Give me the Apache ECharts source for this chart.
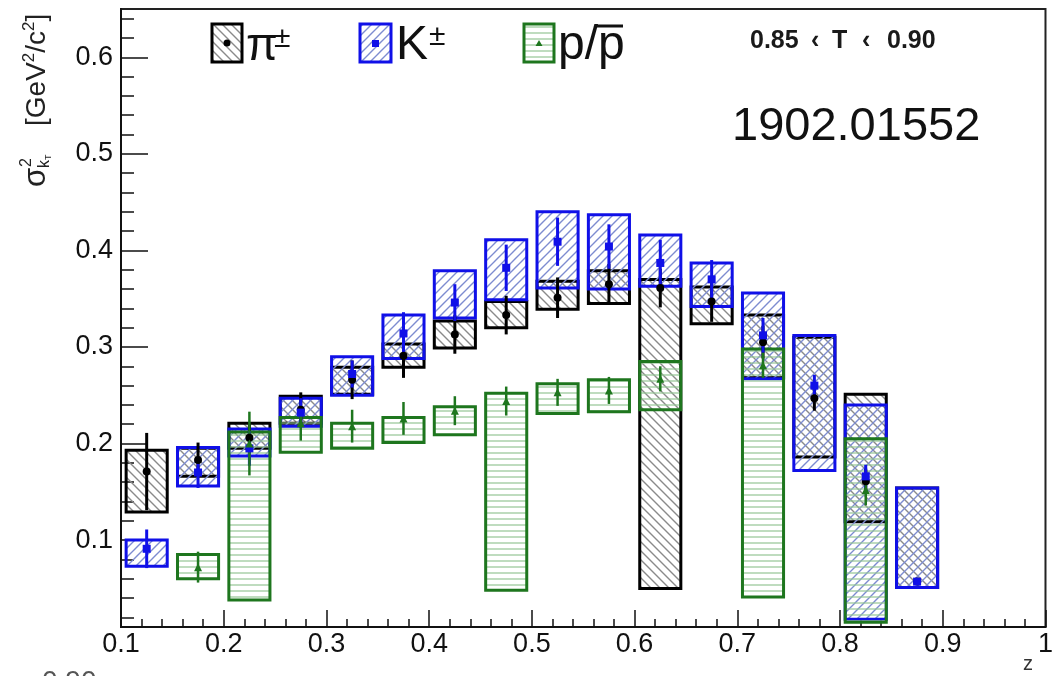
<!DOCTYPE html>
<html>
<head>
<meta charset="utf-8">
<script src="https://cdn.jsdelivr.net/npm/echarts@6/dist/echarts.min.js"></script>
<style>
  html, body { margin: 0; padding: 0; background: #fff; }
  #chart { width: 1056px; height: 676px; }
</style>
</head>
<body>
<div id="chart"></div>
<script>
// ---- axis ticks ----
const xMajorTicks = [0.1, 0.2, 0.3, 0.4, 0.5, 0.6, 0.7, 0.8, 0.9, 1.0];
const xTickLabels = ['0.1', '0.2', '0.3', '0.4', '0.5', '0.6', '0.7', '0.8', '0.9', '1'];
const yMajorTicks = [0.1, 0.2, 0.3, 0.4, 0.5, 0.6];
const yTickLabels = ['0.1', '0.2', '0.3', '0.4', '0.5', '0.6'];

// ---- pions ----
const piBins    = [0.125, 0.175, 0.225, 0.275, 0.325, 0.375, 0.425, 0.475, 0.525, 0.575, 0.625, 0.675, 0.725, 0.775, 0.825, 0.875];
const piValue   = [0.171, 0.183, 0.206, 0.235, 0.266, 0.291, 0.313, 0.333, 0.351, 0.365, 0.361, 0.347, 0.305, 0.247, 0.161, 0.057];
const piStat    = [0.040, 0.018, 0.016, 0.018, 0.020, 0.023, 0.020, 0.020, 0.021, 0.021, 0.020, 0.021, 0.017, 0.013, 0.013, 0.003];
const piSysLow  = [0.129, 0.166, 0.195, 0.221, 0.251, 0.279, 0.299, 0.320, 0.339, 0.345, 0.050, 0.324, 0.268, 0.186, 0.119, 0.051];
const piSysHigh = [0.193, 0.195, 0.221, 0.249, 0.279, 0.303, 0.327, 0.347, 0.368, 0.379, 0.370, 0.362, 0.333, 0.310, 0.251, 0.154];

// ---- kaons ----
const kBins    = [0.125, 0.175, 0.225, 0.275, 0.325, 0.375, 0.425, 0.475, 0.525, 0.575, 0.625, 0.675, 0.725, 0.775, 0.825, 0.875];
const kValue   = [0.091, 0.170, 0.195, 0.232, 0.272, 0.314, 0.346, 0.382, 0.409, 0.404, 0.387, 0.370, 0.312, 0.260, 0.166, 0.057];
const kStat    = [0.020, 0.016, 0.018, 0.015, 0.014, 0.022, 0.019, 0.024, 0.025, 0.023, 0.024, 0.020, 0.018, 0.011, 0.012, 0.003];
const kSysLow  = [0.073, 0.156, 0.187, 0.218, 0.250, 0.288, 0.330, 0.349, 0.361, 0.360, 0.363, 0.342, 0.267, 0.172, 0.018, 0.051];
const kSysHigh = [0.100, 0.196, 0.215, 0.247, 0.290, 0.333, 0.379, 0.411, 0.440, 0.437, 0.416, 0.387, 0.356, 0.312, 0.240, 0.154];

// ---- protons ----
const pBins    = [0.175, 0.225, 0.275, 0.325, 0.375, 0.425, 0.475, 0.525, 0.575, 0.625, 0.725, 0.825];
const pValue   = [0.072, 0.200, 0.221, 0.218, 0.226, 0.234, 0.244, 0.253, 0.255, 0.267, 0.281, 0.152];
const pStat    = [0.016, 0.033, 0.018, 0.017, 0.017, 0.015, 0.015, 0.014, 0.014, 0.013, 0.013, 0.016];
const pSysLow  = [0.060, 0.038, 0.191, 0.195, 0.201, 0.209, 0.048, 0.231, 0.233, 0.235, 0.041, 0.015];
const pSysHigh = [0.085, 0.212, 0.227, 0.221, 0.227, 0.238, 0.252, 0.262, 0.266, 0.285, 0.298, 0.205];

// ---- styling ----
const FONT = '"Liberation Sans", Arial, Helvetica, sans-serif';
const BOX_HALF = 0.02;          // half-width of a systematic box in z
const PI_COLOR = '#000000';
const K_COLOR = '#1010e8';
const P_COLOR = '#1e761e';

// hatch tiles: transparent background, lines only, so overlapping boxes cross-hatch
function hatch(kind, color, size, width) {
  const c = document.createElement('canvas');
  c.width = size; c.height = size;
  const g = c.getContext('2d');
  g.strokeStyle = color;
  g.lineWidth = width;
  g.beginPath();
  if (kind === 'h') {
    g.moveTo(0, size / 2); g.lineTo(size, size / 2);
  } else if (kind === '/') {
    for (const o of [-size, 0, size]) { g.moveTo(o - 1, size + 1); g.lineTo(o + size + 1, -1); }
  } else {
    for (const o of [-size, 0, size]) { g.moveTo(o - 1, -1); g.lineTo(o + size + 1, size + 1); }
  }
  g.stroke();
  return c;
}
const piFill = { image: hatch('\\', '#8a8a8a', 9, 1.4), repeat: 'repeat' };
const kFill  = { image: hatch('/', '#7d8cd0', 9, 1.4), repeat: 'repeat' };
const pFill  = { image: hatch('h', '#94c494', 6, 1.2), repeat: 'repeat' };

function steps(from, to, step) {
  const out = [];
  for (let v = from; v <= to + 1e-9; v += step) out.push(Math.round(v * 1000) / 1000);
  return out;
}
const xMinorTicks = steps(0.12, 0.98, 0.02);
const yMinorTicks = steps(0.02, 0.64, 0.02);

function labelFor(ticks, labels) {
  return function (v) {
    for (let i = 0; i < ticks.length; i++) if (Math.abs(ticks[i] - v) < 1e-6) return labels[i];
    return '';
  };
}

function boxSeries(name, bins, lo, hi, color, fill, z) {
  return {
    type: 'custom', name: name, z: z, silent: true,
    data: bins.map((x, i) => [x, lo[i], hi[i]]),
    renderItem: function (params, api) {
      const a = api.coord([api.value(0) - BOX_HALF, api.value(2)]);
      const b = api.coord([api.value(0) + BOX_HALF, api.value(1)]);
      return {
        type: 'rect',
        shape: { x: a[0], y: a[1], width: b[0] - a[0], height: b[1] - a[1] },
        style: { fill: fill, stroke: color, lineWidth: 3 }
      };
    }
  };
}

function errSeries(name, bins, val, err, color, width, z) {
  return {
    type: 'custom', name: name, z: z, silent: true,
    data: bins.map((x, i) => [x, val[i], err[i]]),
    renderItem: function (params, api) {
      const x = api.value(0), v = api.value(1), e = api.value(2);
      const a = api.coord([x, v + e]);
      const b = api.coord([x, v - e]);
      return {
        type: 'line',
        shape: { x1: a[0], y1: a[1], x2: b[0], y2: b[1] },
        style: { stroke: color, lineWidth: width }
      };
    }
  };
}

function markerSeries(name, bins, val, symbol, size, color, z) {
  return {
    type: 'scatter', name: name, z: z, silent: true,
    symbol: symbol, symbolSize: size,
    itemStyle: { color: color, opacity: 1 },
    data: bins.map((x, i) => [x, val[i]])
  };
}

const axisLabelStyle = { fontSize: 27, color: '#111', fontFamily: FONT };

const chart = echarts.init(document.getElementById('chart'), null, { renderer: 'canvas' });

const supStyle = { fontSize: 17, lineHeight: 15, verticalAlign: 'top', fill: '#222', fontFamily: FONT };
const rangeStyle = { fontSize: 25, fontWeight: 'bold', fontFamily: FONT, fill: '#1a1a1a', verticalAlign: 'middle' };

chart.setOption({
  animation: false,
  backgroundColor: '#ffffff',
  grid: { left: 121, right: 4, top: 9, bottom: 49, show: true, borderColor: '#222', borderWidth: 2, backgroundColor: '#fff' },
  xAxis: [
    {
      type: 'value', position: 'bottom', min: 0.1, max: 1.0,
      axisLine: { lineStyle: { color: '#111', width: 2 } },
      axisTick: { inside: true, length: 17, customValues: xMajorTicks, lineStyle: { color: '#111', width: 1.5 } },
      axisLabel: Object.assign({ customValues: xMajorTicks, margin: 4, formatter: labelFor(xMajorTicks, xTickLabels) }, axisLabelStyle),
      splitLine: { show: false }
    },
    {
      type: 'value', position: 'bottom', min: 0.1, max: 1.0,
      axisLine: { show: false },
      axisTick: { inside: true, length: 8, customValues: xMinorTicks, lineStyle: { color: '#111', width: 1.5 } },
      axisLabel: { show: false },
      splitLine: { show: false }
    }
  ],
  yAxis: [
    {
      type: 'value', position: 'left', min: 0.01, max: 0.65,
      axisLine: { lineStyle: { color: '#111', width: 2 } },
      axisTick: { inside: true, length: 27, customValues: yMajorTicks, lineStyle: { color: '#111', width: 1.5 } },
      axisLabel: Object.assign({ customValues: yMajorTicks, margin: 8, formatter: labelFor(yMajorTicks, yTickLabels) }, axisLabelStyle),
      splitLine: { show: false }
    },
    {
      type: 'value', position: 'left', min: 0.01, max: 0.65,
      axisLine: { show: false },
      axisTick: { inside: true, length: 13, customValues: yMinorTicks, lineStyle: { color: '#111', width: 1.5 } },
      axisLabel: { show: false },
      splitLine: { show: false }
    }
  ],
  series: [
    boxSeries('pi sys', piBins, piSysLow, piSysHigh, PI_COLOR, piFill, 2),
    boxSeries('K sys', kBins, kSysLow, kSysHigh, K_COLOR, kFill, 3),
    boxSeries('p sys', pBins, pSysLow, pSysHigh, P_COLOR, pFill, 4),
    errSeries('pi stat', piBins, piValue, piStat, PI_COLOR, 3, 5),
    errSeries('K stat', kBins, kValue, kStat, K_COLOR, 3, 5),
    errSeries('p stat', pBins, pValue, pStat, P_COLOR, 2.5, 5),
    markerSeries('π±', piBins, piValue, 'circle', 8, PI_COLOR, 6),
    markerSeries('K±', kBins, kValue, 'rect', 8, K_COLOR, 6),
    markerSeries('p/p̄', pBins, pValue, 'triangle', 8, P_COLOR, 6)
  ],
  graphic: [
    // y-axis title, reading bottom to top
    {
      type: 'group', x: 36, y: 187, rotation: Math.PI / 2,
      children: [
        { type: 'text', x: 0, y: 0, style: { text: 'σ', fontSize: 31, fontFamily: FONT, fill: '#222', verticalAlign: 'middle', align: 'left' } },
        { type: 'text', x: 20, y: -9, style: { text: '2', fontSize: 16, fontFamily: FONT, fill: '#222', verticalAlign: 'middle', align: 'left' } },
        { type: 'text', x: 19, y: 9, style: { text: 'k', fontSize: 16, fontFamily: FONT, fill: '#222', verticalAlign: 'middle', align: 'left' } },
        { type: 'text', x: 27, y: 13, style: { text: 'T', fontSize: 9, fontFamily: FONT, fill: '#222', verticalAlign: 'middle', align: 'left' } },
        {
          type: 'text', x: 61, y: 1,
          style: {
            text: '{m|[GeV}{s|2}{m|/c}{s|2}{m|]}', verticalAlign: 'middle', align: 'left',
            rich: {
              m: { fontSize: 28, lineHeight: 32, fill: '#222', fontFamily: FONT },
              s: supStyle
            }
          }
        }
      ]
    },
    // legend: pions
    { type: 'rect', shape: { x: 212, y: 24, width: 30, height: 38 }, style: { fill: piFill, stroke: PI_COLOR, lineWidth: 3 } },
    { type: 'circle', shape: { cx: 227, cy: 43, r: 3.5 }, style: { fill: PI_COLOR } },
    { type: 'text', x: 246, y: 47, style: { text: 'π', fontSize: 46, fontFamily: FONT, fill: '#111', verticalAlign: 'middle' } },
    { type: 'text', x: 274, y: 39, style: { text: '±', fontSize: 30, fontFamily: FONT, fill: '#111', verticalAlign: 'middle' } },
    // legend: kaons
    { type: 'rect', shape: { x: 360, y: 24, width: 31, height: 38 }, style: { fill: kFill, stroke: K_COLOR, lineWidth: 3 } },
    { type: 'rect', shape: { x: 372, y: 40, width: 7, height: 7 }, style: { fill: K_COLOR } },
    { type: 'text', x: 396, y: 46, style: { text: 'K', fontSize: 48, fontFamily: FONT, fill: '#111', verticalAlign: 'middle' } },
    { type: 'text', x: 429, y: 37, style: { text: '±', fontSize: 30, fontFamily: FONT, fill: '#111', verticalAlign: 'middle' } },
    // legend: protons
    { type: 'rect', shape: { x: 524, y: 24, width: 30, height: 38 }, style: { fill: pFill, stroke: P_COLOR, lineWidth: 3 } },
    { type: 'polygon', shape: { points: [[539, 40], [542.5, 46], [535.5, 46]] }, style: { fill: P_COLOR } },
    { type: 'text', x: 558, y: 46, style: { text: 'p/p', fontSize: 48, fontFamily: FONT, fill: '#111', verticalAlign: 'middle' } },
    { type: 'line', shape: { x1: 596, y1: 26, x2: 623, y2: 26 }, style: { stroke: '#111', lineWidth: 3 } },
    // selection range
    { type: 'text', x: 750, y: 41, style: Object.assign({ text: '0.85' }, rangeStyle) },
    { type: 'text', x: 811, y: 41, style: Object.assign({ text: '‹' }, rangeStyle) },
    { type: 'text', x: 832, y: 41, style: Object.assign({ text: 'T' }, rangeStyle) },
    { type: 'text', x: 862, y: 41, style: Object.assign({ text: '‹' }, rangeStyle) },
    { type: 'text', x: 887, y: 41, style: Object.assign({ text: '0.90' }, rangeStyle) },
    // reference tag
    { type: 'text', x: 732, y: 127, style: { text: '1902.01552', fontSize: 47, fontFamily: FONT, fill: '#111', verticalAlign: 'middle' } },
    // clipped fragments along the bottom edge
    { type: 'text', x: 42, y: 668, style: { text: '0.90', fontSize: 28, fontFamily: FONT, fill: '#555', verticalAlign: 'top' } },
    { type: 'text', x: 1023, y: 654, style: { text: 'z', fontSize: 20, fontFamily: FONT, fill: '#333', verticalAlign: 'top' } }
  ]
});
</script>
</body>
</html>
